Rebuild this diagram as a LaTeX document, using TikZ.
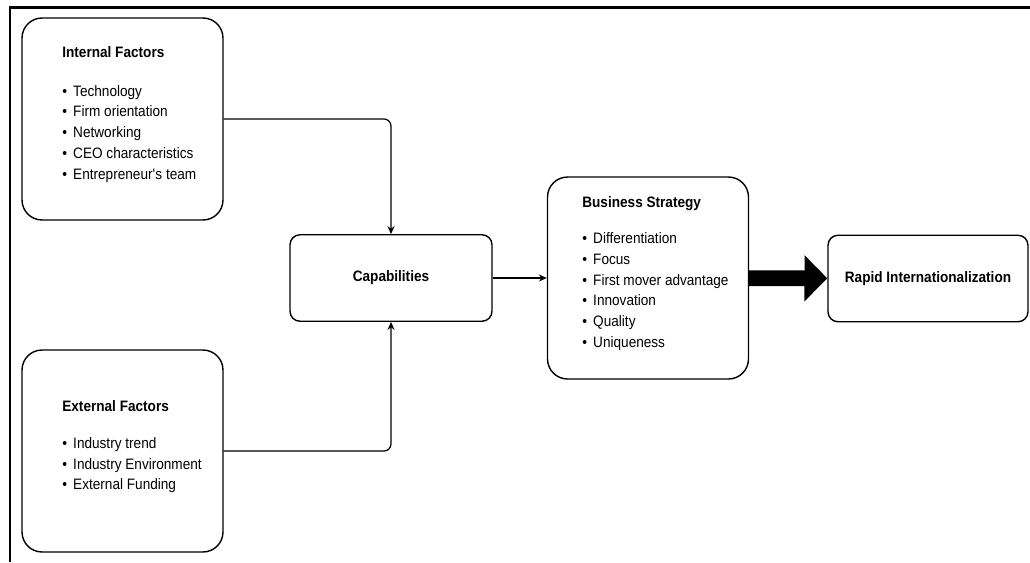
\documentclass[tikz,border=0pt]{standalone}
\usepackage{fontspec}
\setmainfont[FakeStretch=0.9]{Liberation Sans}
\usetikzlibrary{positioning, arrows.meta}
\newcommand{\itm}[1]{\makebox[6.2pt][l]{\textbullet}#1}

\begin{document}
\begin{tikzpicture}[x=0.02cm, y=-0.02cm,
  blk/.style={draw, line width=0.8pt, rounded corners=0.4cm, inner sep=0pt, minimum width=4.02cm, minimum height=4.04cm},
  flat/.style={draw, line width=0.8pt, rounded corners=0.2cm, inner sep=0pt, minimum height=1.73cm, font=\fontsize{8.6pt}{11.8pt}\selectfont\bfseries},
  txt/.style={anchor=north west, inner sep=0pt, align=left, font=\fontsize{8.6pt}{11.8pt}\selectfont},
  con/.style={-{Stealth[length=4.5pt, width=4pt]}, line width=0.7pt, rounded corners=4pt}]
  \useasboundingbox (0,0) rectangle (1030,562);
  \draw[line width=1.7pt] (10,562) -- (10,7.5) -- (1030,7.5);

  \node[blk] (ibox) at (122.5,119) {};
  \node[blk] (ebox) at (122.5,451) {};
  \node[blk] (bstrat) at (648,278) {};
  \node[flat, minimum width=4.04cm] (cap) at (391,278) {Capabilities};
  \node[flat, minimum width=4cm] (rapid) at (928,278.5) {Rapid Internationalization};

  \node[txt] (itxt) at (62,46.5) {\textbf{Internal Factors}\\[10pt]
    \itm{Technology}\\ \itm{Firm orientation}\\ \itm{Networking}\\
    \itm{CEO characteristics}\\ \itm{Entrepreneur\textquotesingle s team}};
  \node[txt] (etxt) at (62,400.5) {\textbf{External Factors}\\[9pt]
    \itm{Industry trend}\\ \itm{Industry Environment}\\ \itm{External Funding}};
  \node[txt] (btxt) at (582,196.5) {\textbf{Business Strategy}\\[8.6pt]
    \itm{Differentiation}\\ \itm{Focus}\\ \itm{First mover advantage}\\
    \itm{Innovation}\\ \itm{Quality}\\ \itm{Uniqueness}};

  \draw[con] (ibox.east) -| (cap.north);
  \draw[con] (ebox.east) -| (cap.south);
  \draw[con] (cap) -- (bstrat);
  \draw[line width=9pt, -{Triangle[length=13pt, width=25.5pt]}] (bstrat) -- (rapid);
\end{tikzpicture}
\end{document}
